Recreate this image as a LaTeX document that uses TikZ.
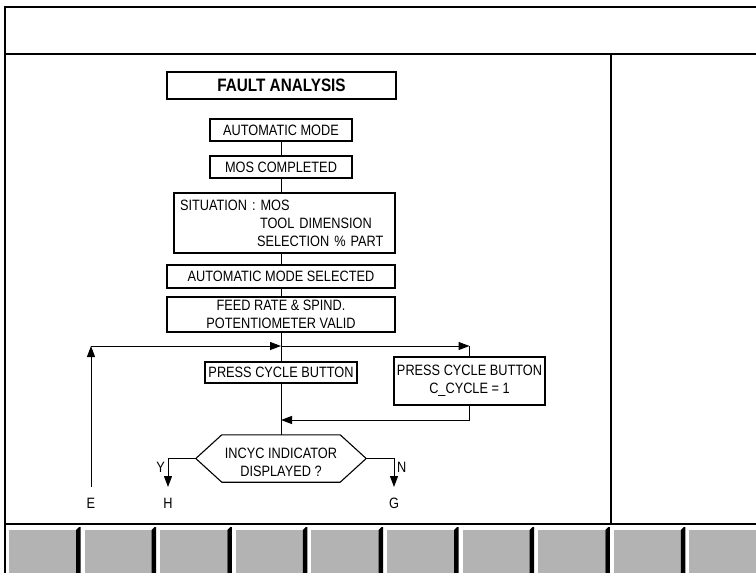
\documentclass[tikz,border=0pt]{standalone}
\usepackage{fontspec}
\setmainfont{Liberation Sans}[FakeStretch=0.85]
\usetikzlibrary{arrows.meta}
\definecolor{btngray}{RGB}{179,179,179}
\begin{document}
\begin{tikzpicture}[x=1pt,y=-1pt,
  box/.style={draw,line width=1.1pt,inner sep=0pt,align=center,font=\fontsize{15}{18}\selectfont},
  wire/.style={line width=1pt},
  arr/.style={line width=1pt,-{Triangle[length=11pt,width=8pt]}},
  frameline/.style={line width=2pt},
  lbl/.style={font=\fontsize{15}{18}\selectfont,inner sep=0pt}]
\clip (0,0) rectangle (756,573);
\fill[white] (0,0) rectangle (756,573);
% frame
\draw[frameline] (5,573) -- (5,7) -- (756,7);
\draw[frameline] (5,54) -- (756,54);
\draw[frameline] (5,524) -- (756,524);
\draw[frameline] (610.5,54) -- (610.5,524);
% soft keys
\foreach \k in {0,...,9}{
  \pgfmathsetmacro{\xa}{5+75.6*\k}
  \pgfmathsetmacro{\xb}{5+75.6*(\k+1)}
  \fill[btngray] (\xa+4,529.5) rectangle (\xb-4.5,573);
  \fill[black] (\xb-4.5,573) -- (\xb-4.5,530) -- (\xb-1.5,527) -- (\xb,527) -- (\xb,573) -- cycle;
}
% nodes
\node[box,font=\bfseries\fontsize{18}{21}\selectfont,minimum width=229pt,minimum height=27pt] (fault) at (281.5,85.5) {FAULT ANALYSIS};
\node[box,minimum width=142pt,minimum height=22pt] (auto) at (281,130) {AUTOMATIC MODE};
\node[box,minimum width=142pt,minimum height=22pt] (mos) at (281,167) {MOS COMPLETED};
\node[box,align=left,inner xsep=6pt,text width=209pt,minimum height=60pt] (sit) at (284.5,223) {SITUATION : MOS\\\hspace*{80pt}TOOL DIMENSION\\\hspace*{77pt}SELECTION \% PART};
\node[box,minimum width=228pt,minimum height=23pt] (amsel) at (281,276.5) {AUTOMATIC MODE SELECTED};
\node[box,minimum width=228pt,minimum height=35pt] (feed) at (281,314.5) {FEED RATE \& SPIND.\\POTENTIOMETER VALID};
\node[box,minimum width=152pt,minimum height=21pt] (press1) at (281,372.5) {PRESS CYCLE BUTTON};
\node[box,minimum width=151pt,minimum height=48pt] (press2) at (469.5,381) {PRESS CYCLE BUTTON\\C\_CYCLE = 1};
\node[inner sep=0pt,minimum width=170pt,minimum height=47pt] (hex) at (281,458.5) {};
\draw[line width=1.1pt] (hex.west) -- ([xshift=26pt]hex.north west) -- ([xshift=-26pt]hex.north east) -- (hex.east) -- ([xshift=-26pt]hex.south east) -- ([xshift=26pt]hex.south west) -- cycle;
\node[lbl,align=center] (hext) at (281,462) {INCYC INDICATOR\\DISPLAYED ?};
% labels
\node[lbl] (E) at (91,503) {E};
\node[lbl] (H) at (168,503) {H};
\node[lbl] (G) at (394,503) {G};
\node[lbl,anchor=east] (Y) at (165,467) {Y};
\node[lbl,anchor=west] (N) at (397,467) {N};
% coordinates
\coordinate (c1) at (91,346);
\coordinate (j1) at (281,346);
\coordinate (c2) at (469.5,346);
\coordinate (c3) at (469.5,420);
\coordinate (j2) at (281,420);
\coordinate (eb) at (91,487);
\coordinate (yc) at (168,458.5);
\coordinate (yb) at (168,487);
\coordinate (nc) at (394,458.5);
\coordinate (nb) at (394,487);
% connectors
\draw[wire] (auto.south) -- (mos.north);
\draw[wire] (mos.south) -- (mos.south |- sit.north);
\draw[wire] (amsel.north |- sit.south) -- (amsel.north);
\draw[wire] (amsel.south) -- (feed.north);
\draw[wire] (feed.south) -- (press1.north);
\draw[wire] (press1.south) -- (hex.north);
\draw[arr] (eb) -- (c1);
\draw[arr] (c1) -- (j1);
\draw[arr] (j1) -- (c2);
\draw[wire] (c2) -- (press2.north);
\draw[wire] (press2.south) -- (c3);
\draw[arr] (c3) -- (j2);
\draw[arr] (hex.west) -- (yc) -- (yb);
\draw[arr] (hex.east) -- (nc) -- (nb);
\end{tikzpicture}
\end{document}
